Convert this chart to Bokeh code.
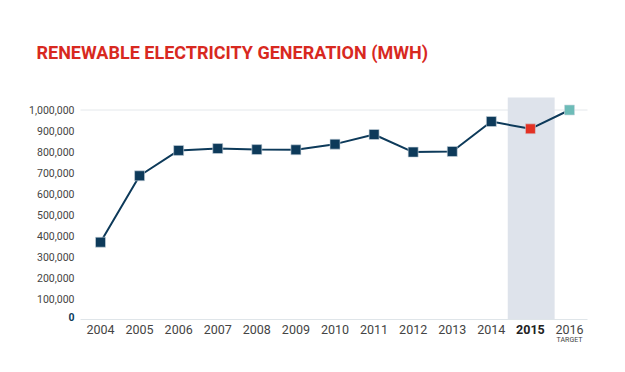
from bokeh.plotting import figure
from bokeh.models import (FixedTicker, NumeralTickFormatter, Range1d, Label,
                          BoxAnnotation, ColumnDataSource)
from bokeh.embed import file_html
from bokeh.resources import INLINE

# ---- data ----
years = [2004, 2005, 2006, 2007, 2008, 2009, 2010, 2011, 2012, 2013, 2014, 2015, 2016]
mwh = [369000, 686000, 807000, 816000, 811000, 810000, 837000, 883000, 799000, 802000, 945000, 910000, 1000000]
y_ticks = [0, 100000, 200000, 300000, 400000, 500000, 600000, 700000, 800000, 900000, 1000000]
highlight_year = 2015
target_year = 2016
title_text = "RENEWABLE ELECTRICITY GENERATION (MWH)"
target_text = "TARGET"

NAVY = "#0d3a5a"
RED = "#e33224"
TEAL = "#6dbcb8"
BAND = "#dee3eb"
TITLE_RED = "#d8291f"
GREY = "#444444"
FONT = "Roboto"

W, H = 609, 356
# pixel layout of the drawing area (canvas px, top-left origin)
PX_LEFT, PX_RIGHT, PX_TOP, PX_ZERO = 80, 587, 97, 319
PX_2004, PX_2016, PX_1M = 100, 569, 109.5

xs = (PX_2016 - PX_2004) / (years[-1] - years[0])          # px per year
ys = (PX_ZERO - PX_1M) / y_ticks[-1]                        # px per MWh
x_start = years[0] - PX_2004 / xs
x_end = years[0] + (W - PX_2004) / xs
y_end = PX_ZERO / ys
y_start = -(H - PX_ZERO) / ys
x_lo = years[0] - (PX_2004 - PX_LEFT) / xs
x_hi = years[0] + (PX_RIGHT - PX_2004) / xs
band_top = (PX_ZERO - PX_TOP) / ys

p = figure(width=W, height=H, output_backend="svg", toolbar_location=None,
           x_range=Range1d(x_start, x_end), y_range=Range1d(y_start, y_end),
           min_border=0)
p.outline_line_color = None
p.background_fill_color = "white"
p.border_fill_color = "white"

# highlight band for current year
p.add_layout(BoxAnnotation(left=highlight_year - 0.58, right=highlight_year + 0.62,
                           bottom=0, top=band_top,
                           fill_color=BAND, fill_alpha=1.0, line_color=None, level="underlay"))

# grid line at top tick
p.xgrid.visible = False
p.ygrid.visible = False
p.segment(x0=[x_lo], x1=[x_hi], y0=[y_ticks[-1]], y1=[y_ticks[-1]],
          line_color="#e4e8eb", line_width=1, level="underlay")

# axes (fixed inside the frame)
p.xaxis.fixed_location = 0
p.xaxis.bounds = (x_lo, x_hi)
p.xaxis.ticker = FixedTicker(ticks=years)
p.xaxis.major_label_overrides = {highlight_year: ""}
p.xaxis.axis_line_color = "#dfe5e9"
p.xaxis.major_tick_line_color = None
p.xaxis.minor_tick_line_color = None
p.xaxis.major_tick_out = 0
p.xaxis.major_tick_in = 0
p.xaxis.major_label_standoff = 5
p.xaxis.major_label_text_font = FONT
p.xaxis.major_label_text_font_size = "12.5px"
p.xaxis.major_label_text_color = GREY

p.yaxis.fixed_location = x_lo
p.yaxis.bounds = (0, y_ticks[-1])
p.yaxis.ticker = FixedTicker(ticks=y_ticks)
p.yaxis.formatter = NumeralTickFormatter(format="0,0")
p.yaxis.major_label_overrides = {0: ""}
p.yaxis.axis_line_color = None
p.yaxis.major_tick_line_color = None
p.yaxis.minor_tick_line_color = None
p.yaxis.major_tick_out = 0
p.yaxis.major_tick_in = 0
p.yaxis.major_label_standoff = 6
p.yaxis.major_label_text_font = FONT
p.yaxis.major_label_text_font_size = "10.5px"
p.yaxis.major_label_text_color = GREY

# line + markers
p.line(years, mwh, line_color=NAVY, line_width=2)
colors = [RED if y == highlight_year else TEAL if y == target_year else NAVY for y in years]
src = ColumnDataSource(dict(x=years, y=mwh, c=colors))
p.scatter("x", "y", source=src, marker="square", size=10, fill_color="c",
          line_color="#cfd8e0", line_width=0.6)

# special labels
p.add_layout(Label(x=x_lo, y=y_ticks[0], x_offset=-6, y_offset=3, text="0",
                   text_font=FONT, text_font_style="bold", text_font_size="10.5px",
                   text_color=NAVY, text_align="right", text_baseline="middle"))
p.add_layout(Label(x=highlight_year, y=H - 324, y_units="screen",
                   text=str(highlight_year), text_font=FONT, text_font_style="bold",
                   text_font_size="12.5px", text_color="#222222",
                   text_align="center", text_baseline="top"))
p.add_layout(Label(x=target_year, y=H - 335, y_units="screen",
                   text=target_text, text_font=FONT, text_font_size="7px",
                   text_color=GREY, text_align="center", text_baseline="top"))

# title
p.add_layout(Label(x=36, y=H - 52, x_units="screen", y_units="screen", text=title_text,
                   text_font=FONT, text_font_style="bold", text_font_size="18px",
                   text_color=TITLE_RED, text_align="left", text_baseline="alphabetic"))

open("out.html", "w").write(file_html(p, INLINE))
